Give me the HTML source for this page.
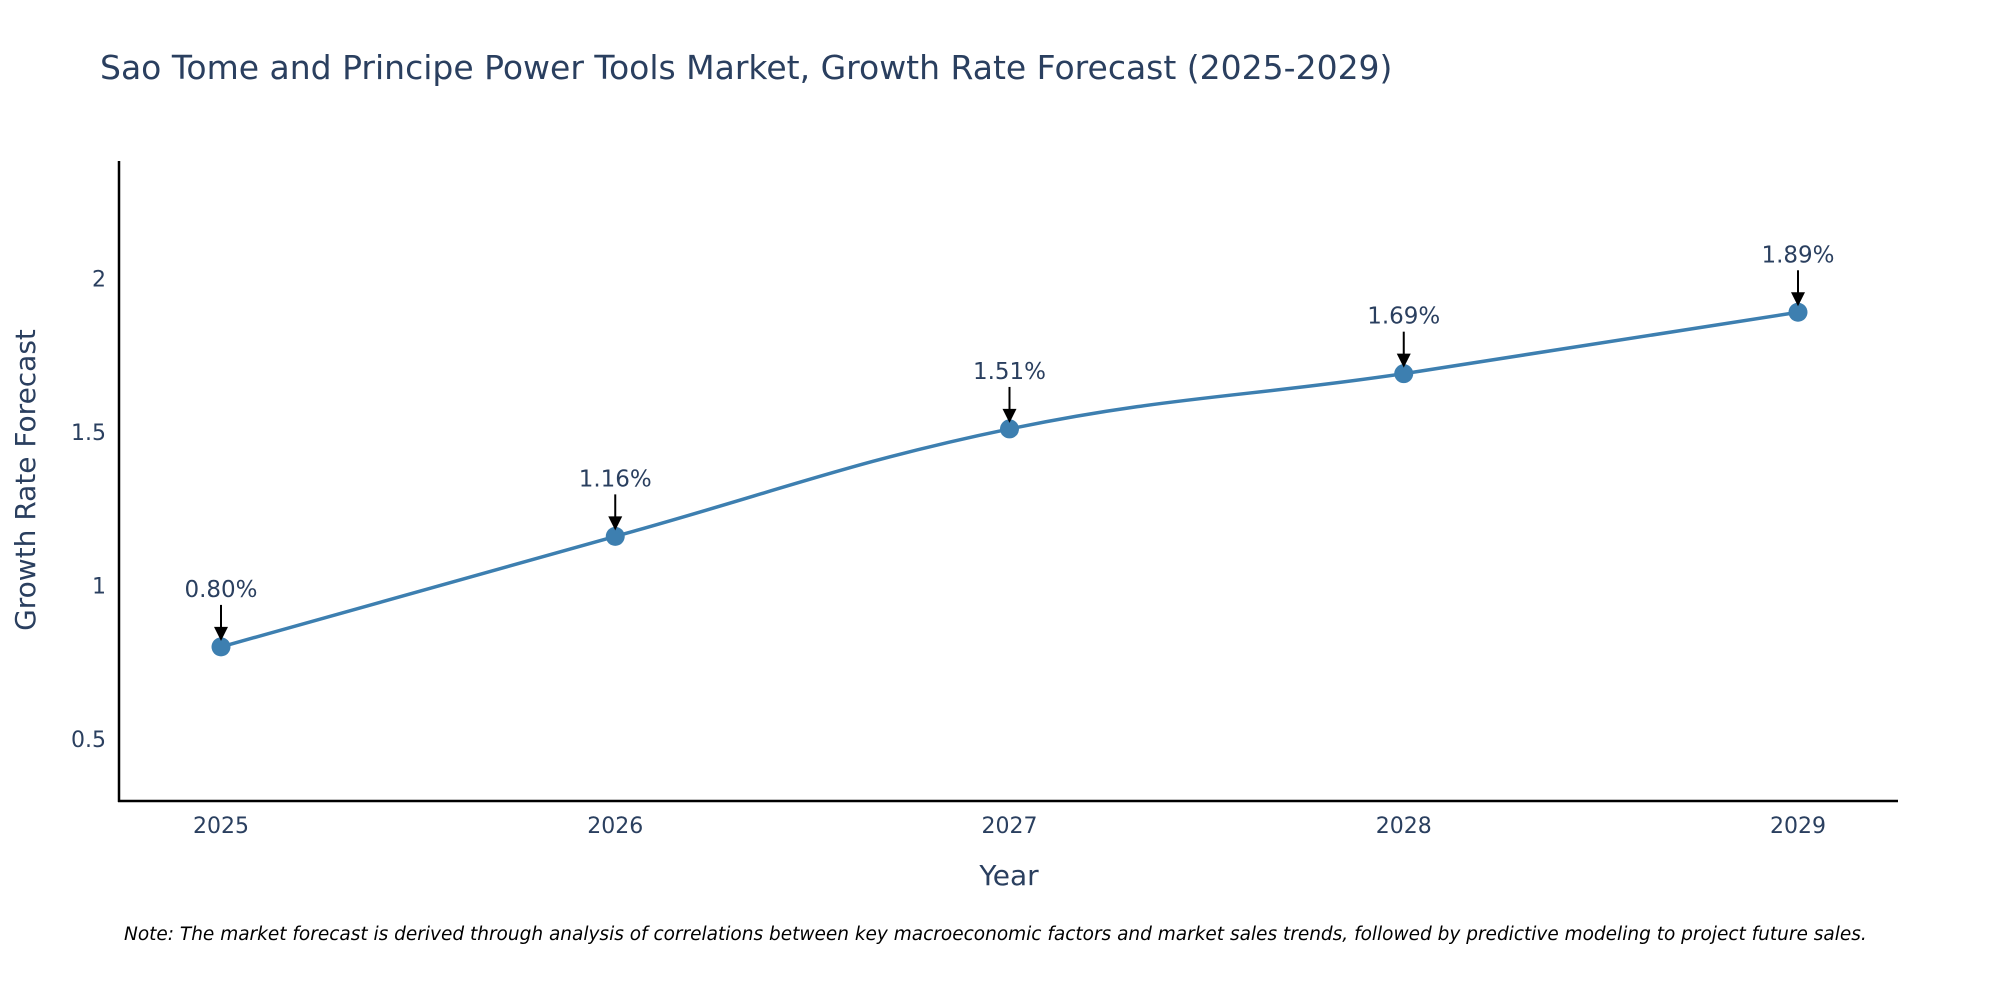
<!DOCTYPE html>
<html><head><meta charset="utf-8"><style>
body{margin:0;background:#fff;}
svg text{font-family:"DejaVu Sans","Liberation Sans",sans-serif;fill:#2a3f5f;}
</style></head><body>
<svg width="2000" height="1000" viewBox="0 0 2000 1000">
<text x="100" y="79" font-size="33">Sao Tome and Principe Power Tools Market, Growth Rate Forecast (2025-2029)</text>
<g id="yticks"></g>
<g id="xticks"></g>
<line x1="119" y1="161" x2="119" y2="802" stroke="#000" stroke-width="2.5"/>
<line x1="118" y1="801" x2="1898" y2="801" stroke="#000" stroke-width="2.5"/>
<text x="35" y="480" font-size="28" text-anchor="middle" transform="rotate(-90 35 480)">Growth Rate Forecast</text>
<text x="1009" y="885" font-size="28" text-anchor="middle">Year</text>
<path id="line" fill="none" stroke="#3d7fb0" stroke-width="3.5"/>
<g id="marks"></g>
<text x="124" y="940" font-size="18.5" font-style="italic" style="fill:#000">Note: The market forecast is derived through analysis of correlations between key macroeconomic factors and market sales trends, followed by predictive modeling to project future sales.</text>
</svg>
<script>
const years=[2025,2026,2027,2028,2029];
const values=[0.80,1.16,1.51,1.69,1.89];
const labels=["0.80%","1.16%","1.51%","1.69%","1.89%"];
const yTicks=[0.5,1,1.5,2];
const NS="http://www.w3.org/2000/svg";
const xs=v=>221+(v-2025)*394.25;
const ys=v=>739-(v-0.5)*307;
function mk(t,a,p){const e=document.createElementNS(NS,t);for(const k in a)e.setAttribute(k,a[k]);(p||document.querySelector('svg')).appendChild(e);return e;}
const yt=document.getElementById('yticks'),xt=document.getElementById('xticks'),mg=document.getElementById('marks');
yTicks.forEach(v=>{const t=mk('text',{x:106,y:ys(v)+8,'font-size':22,'text-anchor':'end'},yt);t.textContent=v;

});
years.forEach(v=>{const t=mk('text',{x:xs(v),y:833,'font-size':22,'text-anchor':'middle'},xt);t.textContent=v;

});
const P=years.map((y,i)=>[xs(y),ys(values[i])]);
let d=`M${P[0][0]},${P[0][1]}`;const s=0.2;
for(let i=0;i<P.length-1;i++){const p0=P[Math.max(i-1,0)],p1=P[i],p2=P[i+1],p3=P[Math.min(i+2,P.length-1)];
d+=` C${p1[0]+(p2[0]-p0[0])*s},${p1[1]+(p2[1]-p0[1])*s} ${p2[0]-(p3[0]-p1[0])*s},${p2[1]-(p3[1]-p1[1])*s} ${p2[0]},${p2[1]}`;}
document.getElementById('line').setAttribute('d',d);
P.forEach((p,i)=>{const c=mk('circle',{cx:p[0],cy:p[1],r:9.5,fill:'#3d7fb0'},mg);


const l=mk('line',{x1:p[0],y1:p[1]-42,x2:p[0],y2:p[1]-18,stroke:'#000','stroke-width':2},mg);


const h=mk('path',{d:`M${p[0]-7},${p[1]-20} L${p[0]+7},${p[1]-20} L${p[0]},${p[1]-6} Z`,fill:'#000'},mg);


const t=mk('text',{x:p[0],y:p[1]-50,'font-size':23,'text-anchor':'middle'},mg);t.textContent=labels[i];

});
</script>
</body></html>
